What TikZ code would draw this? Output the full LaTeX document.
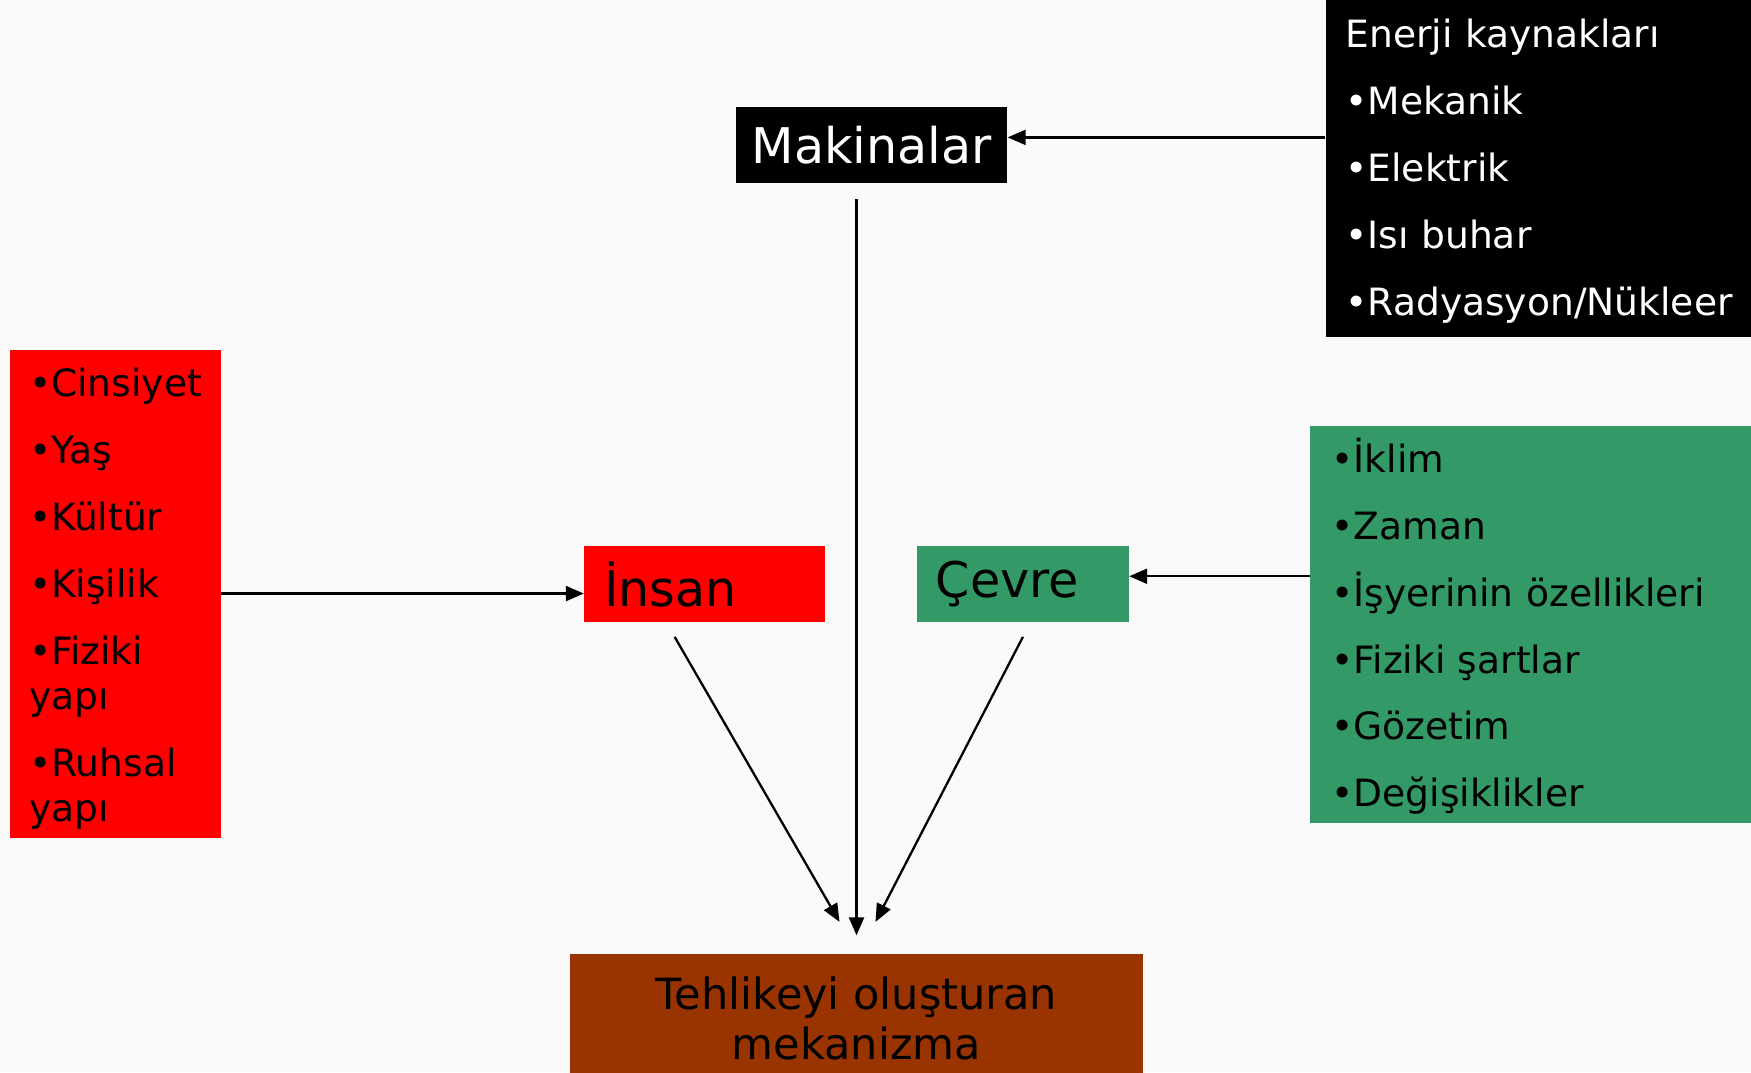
\documentclass[tikz,border=0pt]{standalone}
\usepackage{fontspec}
\setmainfont{DejaVu Sans}
\usetikzlibrary{arrows.meta,positioning}

\definecolor{paper}{HTML}{FAFAFA}
\definecolor{insanred}{HTML}{FF0000}
\definecolor{cevregreen}{HTML}{339966}
\definecolor{mekbrown}{HTML}{993300}

\tikzset{
  bigbox/.style={minimum height=1.52cm, inner ysep=0pt, font=\fontsize{28}{32}\selectfont},
  listbox/.style={inner sep=0pt},
  listtext/.style={anchor=base west, inner sep=0pt, text width=8cm, align=left, font=\fontsize{21.4}{25.6}\selectfont},
  conn/.style={->, line width=1.3pt}
}

\begin{document}
\begin{tikzpicture}[x=0.022334cm,y=-0.022334cm,>={Triangle[length=0.36cm,width=0.3cm]}]
    \fill[paper] (0,0) rectangle (1568,960);
    \useasboundingbox (0,0) rectangle (1568,960);

    % main boxes
    \node[bigbox,fill=black,text=white,minimum width=5.43cm,inner xsep=0pt] (mak) at (780.5,130) {Makinalar};
    \node[bigbox,fill=insanred,text width=4.02cm,inner xsep=0.4cm,align=left] (ins) at (631,523) {İnsan};
    \node[bigbox,fill=cevregreen,text width=3.48cm,inner xsep=0.38cm,align=left] (cev) at (916,523) {Çevre};
    \node[fill=mekbrown,minimum width=11.48cm,minimum height=2.59cm,inner sep=0pt,align=center,
          font=\fontsize{24.5}{28.5}\selectfont] (mek) at (767,912) {Tehlikeyi oluşturan\\mekanizma};

    % lists
    \node[listbox,fill=black,minimum width=8.51cm,minimum height=6.74cm] (ener) at (1377.5,151) {};
    \node[listtext,text=white] at ([xshift=0.4cm,yshift=-0.96cm]ener.north west)
      {Enerji kaynakları\\[12.5pt]•Mekanik\\[12.5pt]•Elektrik\\[12.5pt]•Isı buhar\\[12.5pt]•Radyasyon/Nükleer};
    \node[listbox,fill=insanred,minimum width=4.22cm,minimum height=9.76cm] (kisi) at (103.5,531.5) {};
    \node[listtext] at ([xshift=0.38cm,yshift=-0.95cm]kisi.north west)
      {•Cinsiyet\\[12.5pt]•Yaş\\[12.5pt]•Kültür\\[12.5pt]•Kişilik\\[12.5pt]•Fiziki\\yapı\\[12.5pt]•Ruhsal\\yapı};
    \node[listbox,fill=cevregreen,minimum width=8.82cm,minimum height=7.95cm] (ortam) at (1370.5,559) {};
    \node[listtext] at ([xshift=0.43cm,yshift=-0.94cm]ortam.north west)
      {•İklim\\[12.5pt]•Zaman\\[12.5pt]•İşyerinin özellikleri\\[12.5pt]•Fiziki şartlar\\[12.5pt]•Gözetim\\[12.5pt]•Değişiklikler};

    % connectors
    \coordinate (mtip) at ([yshift=0.156cm]mak.east);
    \coordinate (ctip) at ([yshift=0.156cm]cev.east);
    \draw[conn] (ener.west |- mtip) -- (mtip);
    \draw[conn] (kisi.east) -- (kisi.east -| ins.west);
    \draw[conn] (ortam.west |- ctip) -- (ctip);
    \draw[conn,shorten <=0.31cm,shorten >=0.36cm] (mak.south -| mek.north) -- (mek.north);
    \draw[conn] ([xshift=-0.6cm,yshift=-0.29cm]ins.south) -- ([xshift=-0.34cm,yshift=0.63cm]mek.north);
    \draw[conn] ([yshift=-0.29cm]cev.south) -- ([xshift=0.38cm,yshift=0.63cm]mek.north);
\end{tikzpicture}
\end{document}
